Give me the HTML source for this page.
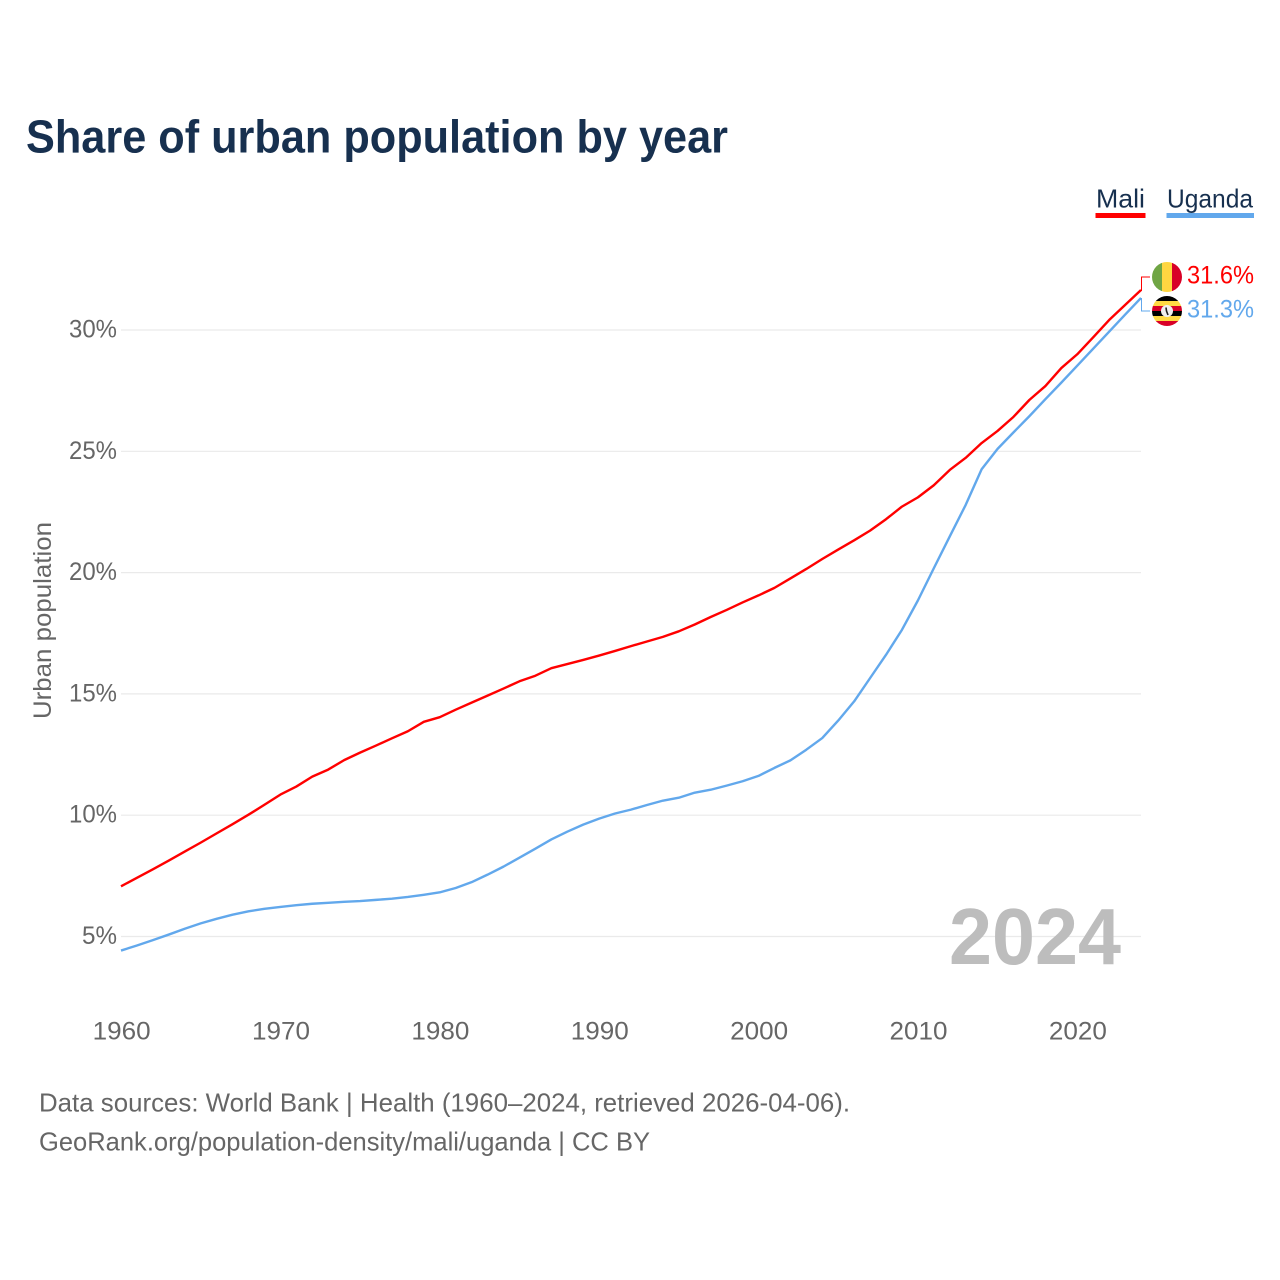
<!DOCTYPE html>
<html lang="en">
<head>
<meta charset="utf-8">
<title>Share of urban population by year</title>
<style>
html,body{margin:0;padding:0;background:#fff;}
svg{display:block;}
text{font-family:"Liberation Sans",sans-serif;}
</style>
</head>
<body>
<svg id="chart" width="1280" height="1280" viewBox="0 0 1280 1280" xmlns="http://www.w3.org/2000/svg">
  <rect width="1280" height="1280" fill="#fff"/>
  <defs>
    <clipPath id="clip-mali"><circle cx="1167" cy="277" r="15"/></clipPath>
    <clipPath id="clip-uganda"><circle cx="1167" cy="311" r="15"/></clipPath>
  </defs>
  <text x="26" y="152.5" font-size="46" font-weight="700" fill="#17304f" textLength="702" lengthAdjust="spacingAndGlyphs">Share of urban population by year</text>

  <g id="grid"></g>
  <g id="yticks"></g>
  <g id="xticks"></g>
  <text transform="translate(51,719) rotate(-90)" font-size="25" fill="#666" textLength="197" lengthAdjust="spacingAndGlyphs">Urban population</text>
  <text x="949" y="964" font-size="80" font-weight="700" fill="#bdbdbd" textLength="172" lengthAdjust="spacingAndGlyphs">2024</text>

  <path id="line-mali" fill="none" stroke="#ff0000" stroke-width="2.4" stroke-linejoin="round"/>
  <path id="line-uganda" fill="none" stroke="#62a8ec" stroke-width="2.4" stroke-linejoin="round"/>

  <path d="M1141.5 291V277H1150" fill="none" stroke="#ff0000" stroke-width="1"/>
  <path d="M1141.5 298V311H1150" fill="none" stroke="#62a8ec" stroke-width="1"/>

  <g clip-path="url(#clip-mali)">
    <rect x="1152" y="262" width="10" height="30" fill="#6fa544"/>
    <rect x="1162" y="262" width="10" height="30" fill="#ffd641"/>
    <rect x="1172" y="262" width="10" height="30" fill="#d80027"/>
  </g>
  <g clip-path="url(#clip-uganda)">
    <rect x="1152" y="296" width="30" height="5" fill="#000"/>
    <rect x="1152" y="301" width="30" height="5" fill="#ffda44"/>
    <rect x="1152" y="306" width="30" height="5" fill="#d80027"/>
    <rect x="1152" y="311" width="30" height="5" fill="#000"/>
    <rect x="1152" y="316" width="30" height="5" fill="#ffda44"/>
    <rect x="1152" y="321" width="30" height="5" fill="#d80027"/>
    <circle cx="1167" cy="311" r="6" fill="#f0f0f0"/>
    <path d="M1166 307.5L1166.5 311L1168 315" fill="none" stroke="#222" stroke-width="1.6"/>
  </g>

  <text x="1187" y="283.5" font-size="25" fill="#ff0000" textLength="67" lengthAdjust="spacingAndGlyphs">31.6%</text>
  <text x="1187" y="317.5" font-size="25" fill="#62a8ec" textLength="67" lengthAdjust="spacingAndGlyphs">31.3%</text>

  <g>
    <text x="1096" y="207.5" font-size="26" fill="#17304f" textLength="49" lengthAdjust="spacingAndGlyphs">Mali</text>
    <rect x="1095.5" y="213" width="50" height="5" fill="#ff0000"/>
  </g>
  <g>
    <text x="1167" y="207.5" font-size="26" fill="#17304f" textLength="86" lengthAdjust="spacingAndGlyphs">Uganda</text>
    <rect x="1166.5" y="213" width="87.5" height="5" fill="#62a8ec"/>
  </g>

  <text x="39" y="1111.5" font-size="26" fill="#666" textLength="811" lengthAdjust="spacingAndGlyphs">Data sources: World Bank | Health (1960–2024, retrieved 2026-04-06).</text>
  <text x="39" y="1150.5" font-size="26" fill="#666" textLength="611" lengthAdjust="spacingAndGlyphs">GeoRank.org/population-density/mali/uganda | CC BY</text>
</svg>
<script>
const firstYear = 1960;
const yTickValues = [5, 10, 15, 20, 25, 30];
const xTickYears = [1960, 1970, 1980, 1990, 2000, 2010, 2020];
const maliValues = [7.07,7.42,7.77,8.13,8.5,8.87,9.25,9.63,10.02,10.43,10.85,11.18,11.59,11.88,12.27,12.58,12.87,13.17,13.46,13.85,14.04,14.35,14.64,14.93,15.22,15.52,15.75,16.06,16.23,16.4,16.58,16.77,16.97,17.16,17.35,17.58,17.86,18.17,18.46,18.77,19.06,19.37,19.76,20.15,20.56,20.95,21.33,21.73,22.2,22.72,23.1,23.6,24.23,24.73,25.34,25.84,26.42,27.12,27.69,28.43,29.0,29.7,30.41,31.03,31.65];
const ugandaValues = [4.42,4.63,4.85,5.08,5.32,5.54,5.73,5.9,6.04,6.14,6.22,6.29,6.35,6.39,6.43,6.46,6.51,6.56,6.63,6.72,6.82,7.0,7.24,7.55,7.88,8.25,8.62,9.0,9.32,9.61,9.86,10.07,10.23,10.42,10.6,10.72,10.93,11.05,11.22,11.4,11.62,11.95,12.26,12.7,13.18,13.9,14.69,15.65,16.61,17.64,18.85,20.18,21.49,22.79,24.26,25.1,25.78,26.45,27.15,27.83,28.53,29.23,29.93,30.63,31.32];

const SVG_NS = 'http://www.w3.org/2000/svg';
function xScale(year) { return 121 + (year - 1960) * (1020 / 64); }
function yScale(value) { return 936.5 - (value - 5) * (606.5 / 25); }
function linePath(values) {
  return values.map(function (v, i) {
    return (i ? 'L' : 'M') + xScale(firstYear + i).toFixed(2) + ' ' + yScale(v).toFixed(2);
  }).join('');
}

const gridGroup = document.getElementById('grid');
const yGroup = document.getElementById('yticks');
const xGroup = document.getElementById('xticks');

yTickValues.forEach(function (v) {
  const line = document.createElementNS(SVG_NS, 'line');
  
  
  line.setAttribute('x1', 121);
  line.setAttribute('x2', 1141);
  line.setAttribute('y1', yScale(v));
  line.setAttribute('y2', yScale(v));
  line.setAttribute('stroke', '#eaeaea');
  line.setAttribute('stroke-width', '1.2');
  gridGroup.appendChild(line);

  const label = document.createElementNS(SVG_NS, 'text');
  
  
  label.setAttribute('x', 117);
  label.setAttribute('y', yScale(v) + 7.5);
  label.setAttribute('text-anchor', 'end');
  label.setAttribute('font-size', '25');
  label.setAttribute('fill', '#666');
  label.textContent = v + '%';
  label.setAttribute('textLength', v < 10 ? 35 : 48);
  label.setAttribute('lengthAdjust', 'spacingAndGlyphs');
  yGroup.appendChild(label);
});

xTickYears.forEach(function (year) {
  const label = document.createElementNS(SVG_NS, 'text');
  
  
  label.setAttribute('x', xScale(year) + 0.7);
  label.setAttribute('y', 1039.5);
  label.setAttribute('text-anchor', 'middle');
  label.setAttribute('font-size', '25');
  label.setAttribute('fill', '#666');
  label.textContent = year;
  label.setAttribute('textLength', 58);
  label.setAttribute('lengthAdjust', 'spacingAndGlyphs');
  xGroup.appendChild(label);
});

document.getElementById('line-mali').setAttribute('d', linePath(maliValues));
document.getElementById('line-uganda').setAttribute('d', linePath(ugandaValues));
</script>
</body>
</html>
